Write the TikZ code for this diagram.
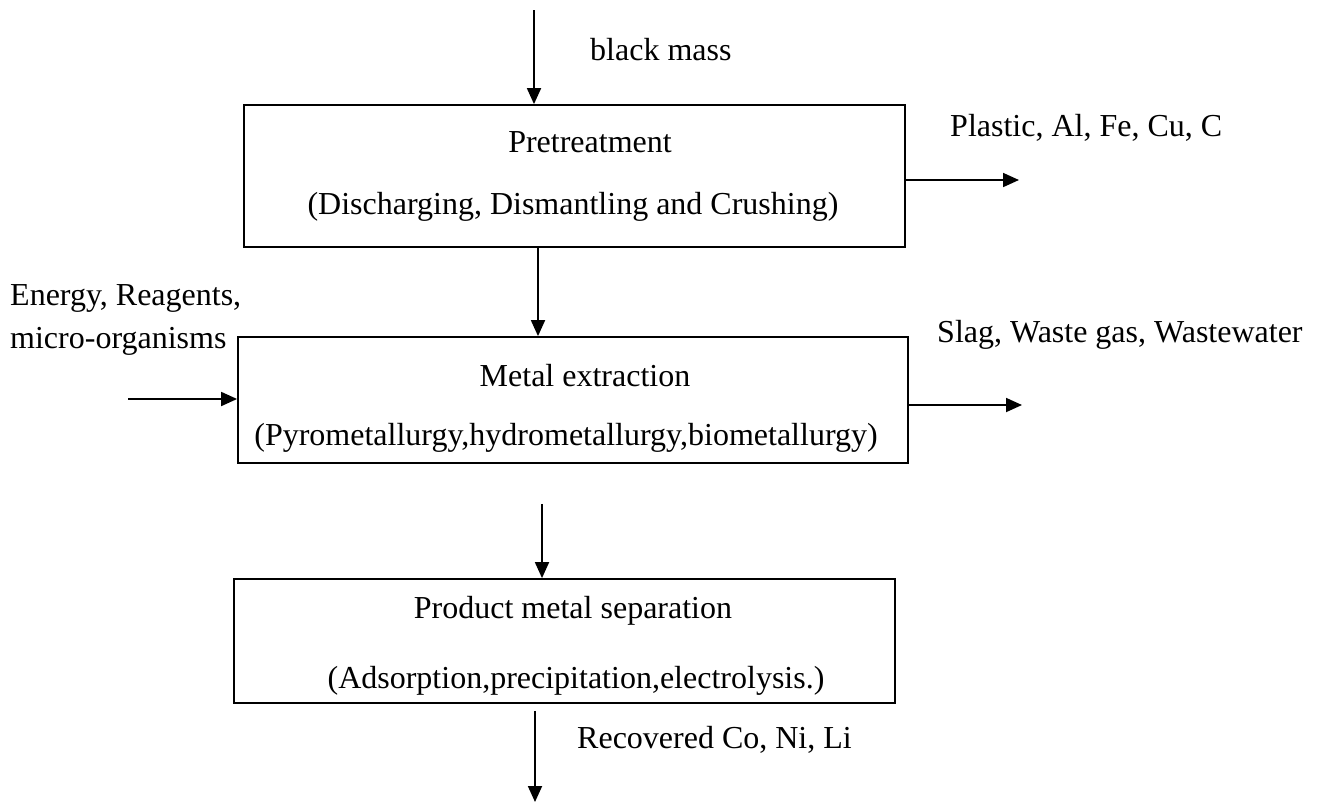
\documentclass[tikz,border=0pt]{standalone}
\usepackage{fontspec}
\setmainfont{Liberation Serif}
\usetikzlibrary{arrows.meta,calc}
\begin{document}
\begin{tikzpicture}[x=1pt,y=-1pt,
  box/.style={draw,line width=1.8pt,inner sep=0pt},
  txt/.style={anchor=base,inner sep=0pt,font=\fontsize{32}{38}\selectfont},
  ltxt/.style={anchor=base west,inner sep=0pt,font=\fontsize{32}{38}\selectfont},
  arr/.style={line width=1.8pt,-{Triangle[length=16pt,width=14pt]}}]
\useasboundingbox (0,0) rectangle (1330,803);
% boxes
\node[box,minimum width=661pt,minimum height=142pt] (b1) at (574.5,176) {};
\node[box,minimum width=670pt,minimum height=126pt] (b2) at (573,400) {};
\node[box,minimum width=661pt,minimum height=124pt] (b3) at (564.5,641) {};
% box texts
\node[txt] (t1a) at (590,152) {Pretreatment};
\node[txt] (t1b) at (573,214) {(Discharging, Dismantling and Crushing)};
\node[txt] (t2a) at (585,386) {Metal extraction};
\node[txt] (t2b) at (566,445) {(Pyrometallurgy,hydrometallurgy,biometallurgy)};
\node[txt] (t3a) at (573,618) {Product metal separation};
\node[txt] (t3b) at (576,688) {(Adsorption,precipitation,electrolysis.)};
% side texts
\node[ltxt] (bm) at (590,60) {black mass};
\node[ltxt] (pl) at (950,136) {Plastic, Al, Fe, Cu, C};
\node[ltxt] (e1) at (10,305) {Energy, Reagents,};
\node[ltxt] (e2) at (10,348) {micro-organisms};
\node[ltxt] (sl) at (937,342) {Slag, Waste gas, Wastewater};
\node[ltxt] (rc) at (577,748) {Recovered Co, Ni, Li};
% connector coordinates
\coordinate (src) at (534,10);
\coordinate (x1) at (538,0);
\coordinate (x2) at (542,0);
\coordinate (out) at (535,802);
\coordinate (ein) at (128,399);
\coordinate (p1) at (1019,180);
\coordinate (p2) at (1022,405);
% connectors
\draw[arr] (src) -- (src |- b1.north);
\draw[arr] (b1.south -| x1) -- (b2.north -| x1);
\draw[arr] ($(b2.south -| x2)+(0,40)$) -- (b3.north -| x2);
\draw[arr] ($(b3.south -| out)+(0,7)$) -- (out);
\draw[arr] (ein) -- (ein -| b2.west);
\draw[arr] (b1.east |- p1) -- (p1);
\draw[arr] (b2.east |- p2) -- (p2);
\end{tikzpicture}
\end{document}
